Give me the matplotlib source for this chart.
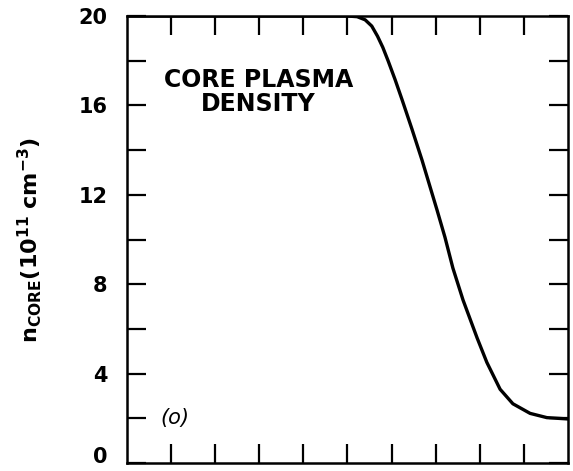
import matplotlib
matplotlib.use('Agg')
import matplotlib.pyplot as plt
import numpy as np

# curve
x_pos = [0.0, 4.0, 5.0, 5.22, 5.40, 5.55, 5.68, 5.80, 5.92, 6.08, 6.24, 6.46, 6.69, 7.03, 7.21,
         7.39, 7.62, 7.94, 8.16, 8.46, 8.75, 9.14, 9.52, 10.0]
n_core = [20.0, 20.0, 20.0, 19.97, 19.83, 19.55, 19.1, 18.6, 18.0, 17.15, 16.24, 14.95, 13.55, 11.32, 10.1,
          8.72, 7.29, 5.59, 4.5, 3.3, 2.65, 2.22, 2.03, 1.97]
y_ticks = [0, 4, 8, 12, 16, 20]

fig = plt.figure(figsize=(5.73, 4.71), dpi=100)
ax = fig.add_axes([0.2216, 0.017, 0.7697, 0.949])
ax.plot(x_pos, n_core, color='black', lw=2.4, solid_joinstyle='round', solid_capstyle='round')

ax.set_xlim(0, 10)
ax.set_ylim(0, 20)
ax.set_xticks(np.arange(1, 10))
ax.set_xticklabels([])
ax.set_yticks(y_ticks)
ax.set_yticks(np.arange(2, 20, 4), minor=True)
ax.set_yticklabels([str(v) for v in y_ticks], fontsize=15, fontweight='bold')
ax.get_yticklabels()[0].set_va('baseline')  # keep the 0 inside the frame
ax.tick_params(axis='both', which='both', direction='in', length=14, width=1.6,
               top=True, right=True, pad=14)
for s in ax.spines.values():
    s.set_linewidth(1.8)

ax.text(2.98, 16.6, 'CORE PLASMA\nDENSITY', ha='center', va='center',
        fontsize=17, fontweight='bold', linespacing=1.0)
ax.text(1.09, 2.0, '(o)', ha='center', va='center', fontsize=15, fontstyle='italic')

fig.text(0.052, 0.49, r'$\mathregular{n_{CORE}(10^{11}\ cm^{-3})}$', rotation=90,
         ha='center', va='center', fontsize=16, fontweight='bold')

fig.savefig('out.png', dpi=100)
